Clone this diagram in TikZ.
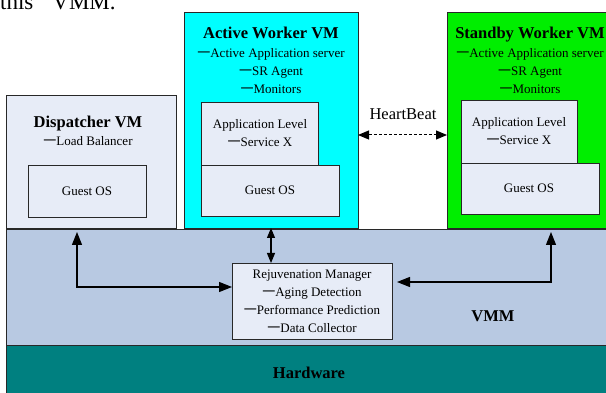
\documentclass[tikz,border=0pt]{standalone}
\usepackage{fontspec}
\setmainfont{Liberation Serif}
\newfontfamily\cjk{Noto Sans CJK SC}
\usetikzlibrary{arrows.meta}
\newcommand\yidash{{\cjk 一}}
\definecolor{boxfill}{RGB}{231,236,247}
\definecolor{vmmfill}{RGB}{184,201,226}
\definecolor{hwfill}{RGB}{0,128,128}
\definecolor{activefill}{RGB}{0,255,255}
\definecolor{standbyfill}{RGB}{0,238,0}
\definecolor{edge}{RGB}{40,40,40}
\begin{document}
\begin{tikzpicture}[x=1pt,y=-1pt,
  frame/.style={draw=edge, line width=0.9pt, anchor=north west, inner sep=0pt, outer sep=0pt},
  ln/.style={anchor=base, inner sep=0pt, font=\fontsize{13}{16}\selectfont},
  ttl/.style={anchor=base, inner sep=0pt, font=\fontsize{16.5}{20}\selectfont\bfseries},
  arr/.style={line width=1.1pt, {Triangle[length=13pt,width=10pt]}-{Triangle[length=13pt,width=10pt]}},
  arrsmall/.style={line width=1.1pt, {Triangle[length=10pt,width=8pt]}-{Triangle[length=10pt,width=8pt]}},
  hb/.style={line width=1pt, dash pattern=on 3pt off 2pt, {Triangle[length=11pt,width=9pt]}-{Triangle[length=11pt,width=9pt]}}
]
\useasboundingbox (0,0) rectangle (606,393);
\clip (0,0) rectangle (606,393);

% page text fragment (cut off at the top edge, as in the reference)
\node[anchor=base west, inner sep=0pt, font=\fontsize{23}{27}\selectfont] (pagetext) at (0,10) {this\hspace{19pt}VMM.};

% VM boxes
\node[frame, fill=boxfill, minimum width=170pt, minimum height=133pt] (disp) at (6,95) {};
\node[frame, fill=activefill, minimum width=174pt, minimum height=216pt] (active) at (184,12) {};
\node[frame, fill=standbyfill, minimum width=163pt, minimum height=216pt] (standby) at (447,12) {};

% inner boxes
\node[frame, fill=boxfill, minimum width=118pt, minimum height=52pt] (dguest) at (28,165) {};
\node[frame, fill=boxfill, minimum width=117pt, minimum height=63pt] (aapp) at (201,102) {};
\node[frame, fill=boxfill, minimum width=138pt, minimum height=51pt] (aguest) at (201,165) {};
\node[frame, fill=boxfill, minimum width=116pt, minimum height=63pt] (sapp) at (461,100) {};
\node[frame, fill=boxfill, minimum width=138pt, minimum height=51pt] (sguest) at (461,163) {};

% layers
\node[frame, fill=vmmfill, minimum width=604pt, minimum height=116pt] (vmm) at (6,229) {};
\node[frame, fill=hwfill, minimum width=604pt, minimum height=52pt] (hw) at (6,345) {};
\node[frame, fill=boxfill, minimum width=160pt, minimum height=76pt] (rm) at (232,263) {};

% texts: dispatcher
\node[ttl] (dtitle) at (88,128) {Dispatcher VM};
\node[ln] (dl1) at (88,145.5) {\yidash Load Balancer};
\node[ln] (dgtxt) at (87,195.5) {Guest OS};

% texts: active
\node[ttl] (atitle) at (271,39) {Active Worker VM};
\node[ln] (al1) at (271,57.5) {\yidash Active Application server};
\node[ln] (al2) at (271,75.5) {\yidash SR Agent};
\node[ln] (al3) at (271,93.5) {\yidash Monitors};
\node[ln] (aapp1) at (260,128.5) {Application Level};
\node[ln] (aapp2) at (260,146.5) {\yidash Service X};
\node[ln] (agtxt) at (270,194.5) {Guest OS};

% texts: standby
\node[ttl] (stitle) at (530,39) {Standby Worker VM};
\node[ln] (sl1) at (530,57.5) {\yidash Active Application server};
\node[ln] (sl2) at (530,75.5) {\yidash SR Agent};
\node[ln] (sl3) at (530,93.5) {\yidash Monitors};
\node[ln] (sapp1) at (519,127) {Application Level};
\node[ln] (sapp2) at (519,145) {\yidash Service X};
\node[ln] (sgtxt) at (529,192.5) {Guest OS};

% heartbeat
\node[anchor=base, inner sep=0pt, font=\fontsize{16.5}{20}\selectfont] (hbtxt) at (403,120) {HeartBeat};

% rejuvenation manager text
\node[ln] (rm1) at (312,278.5) {Rejuvenation Manager};
\node[ln] (rm2) at (312,296.5) {\yidash Aging Detection};
\node[ln] (rm3) at (312,314.5) {\yidash Performance Prediction};
\node[ln] (rm4) at (312,332.5) {\yidash Data Collector};

\node[ttl] (vmmtxt) at (493,321) {VMM};
\node[ttl] (hwtxt) at (309,378) {Hardware};

% connectors
\coordinate (dtip) at (77,232);
\coordinate (stip) at (551,232);
\draw[arr] (dtip) |- ([yshift=14pt]rm.west);
\draw[arr] (stip) |- ([yshift=19pt,xshift=5pt]rm.east);
\draw[arrsmall] (active.south) -- (active.south |- rm.north);
\draw[hb] ([yshift=-15pt]active.east) -- ([yshift=-15pt]standby.west);
\end{tikzpicture}
\end{document}
